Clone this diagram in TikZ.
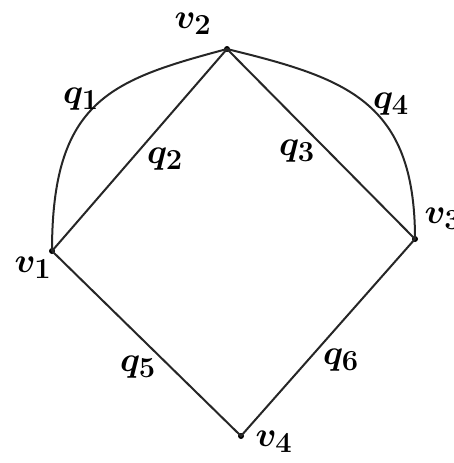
\documentclass[tikz,border=0pt]{standalone}
\begin{document}
\begin{tikzpicture}[x=1pt,y=-1pt,
  edge/.style={line width=2pt,black!85},
  vdot/.style={circle,fill=black,inner sep=0pt,minimum size=6pt},
  lbl/.style={inner sep=0pt,scale=1.4,font=\Huge\boldmath}]
\useasboundingbox (0,0) rectangle (454,463);
\node[vdot] (v1) at (52,251) {};
\node[vdot] (v2) at (227,49) {};
\node[vdot] (v3) at (415,239) {};
\node[vdot] (v4) at (241,436) {};
\draw[edge] (v1.center) -- (v2.center) -- (v3.center) -- (v4.center) -- (v1.center);
\draw[edge] (v1.center) .. controls (52,100) and (111,80) .. (v2.center);
\draw[edge] (v2.center) .. controls (345,78) and (415,100) .. (v3.center);
\node[lbl] (lv1) at (33,268) {$v_1$};
\node[lbl] (lv2) at (193,24) {$v_2$};
\node[lbl] (lv3) at (443,219) {$v_3$};
\node[lbl] (lv4) at (274,442) {$v_4$};
\node[lbl] (q1) at (81,99) {$q_1$};
\node[lbl] (q2) at (165,159) {$q_2$};
\node[lbl] (q3) at (297,151) {$q_3$};
\node[lbl] (q4) at (391,104) {$q_4$};
\node[lbl] (q5) at (138,367) {$q_5$};
\node[lbl] (q6) at (341,360) {$q_6$};
\end{tikzpicture}
\end{document}
